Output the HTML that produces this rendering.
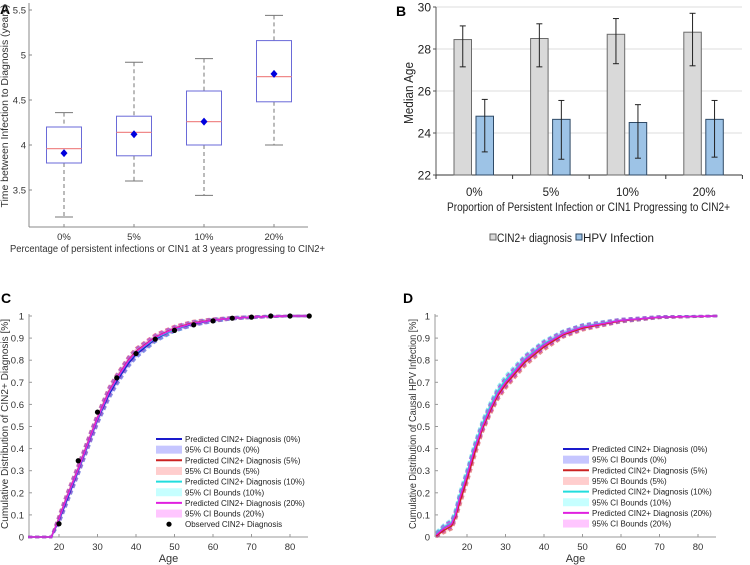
<!DOCTYPE html>
<html><head><meta charset="utf-8"><style>
html,body{margin:0;padding:0;background:#fff;}
svg{display:block;font-family:"Liberation Sans",Arial,sans-serif;}
</style></head><body>
<svg id="fig" width="750" height="565" viewBox="0 0 750 565" xmlns="http://www.w3.org/2000/svg">
<g id="pA"></g>
<g id="pB"></g>
<g id="pC"></g>
<g id="pD"></g>
</svg>
<script>
// ---- Panel A data ----
const catsA = ["0%","5%","10%","20%"];
const whiskLo = [3.2,3.6,3.44,4.0];
const q1 = [3.8,3.88,4.0,4.48];
const med = [3.96,4.14,4.26,4.76];
const q3 = [4.2,4.32,4.6,5.16];
const whiskHi = [4.36,4.92,4.96,5.44];
const meanA = [3.91,4.12,4.26,4.79];
const ticksA = [3.5,4,4.5,5,5.5];
// ---- Panel B data ----
const catsB = ["0%","5%","10%","20%"];
const cinMed = [28.45,28.5,28.7,28.8];
const cinLo = [27.15,27.15,27.3,27.2];
const cinHi = [29.1,29.2,29.45,29.7];
const hpvMed = [24.8,24.65,24.5,24.65];
const hpvLo = [23.1,22.75,22.8,22.85];
const hpvHi = [25.6,25.55,25.35,25.55];
const ticksB = [22,24,26,28,30];
// ---- Panel C data ----
const agesC = [12,18,20,22,25,28,30,33,35,38,40,45,50,55,60,65,70,75,80,85];
const c0 = [0,0,0.075,0.165,0.30,0.44,0.53,0.645,0.705,0.785,0.825,0.895,0.94,0.965,0.98,0.99,0.995,0.998,1,1];
const c5 = [0,0,0.085,0.18,0.31,0.45,0.54,0.66,0.72,0.80,0.84,0.905,0.945,0.97,0.982,0.99,0.995,0.998,1,1];
const c10 = [0,0,0.08,0.175,0.305,0.445,0.535,0.655,0.715,0.795,0.835,0.90,0.94,0.968,0.98,0.99,0.995,0.998,1,1];
const c20 = [0,0,0.082,0.177,0.307,0.447,0.537,0.657,0.717,0.797,0.837,0.903,0.943,0.968,0.981,0.99,0.995,0.998,1,1];
const ciC = [0,0,0.015,0.018,0.02,0.02,0.02,0.02,0.018,0.016,0.015,0.012,0.01,0.008,0.006,0.004,0.003,0.002,0,0];
const obsAge = [20,25,30,35,40,45,50,55,60,65,70,75,80,85];
const obsVal = [0.06,0.345,0.565,0.72,0.83,0.895,0.935,0.96,0.978,0.99,0.995,1,1,1];
// ---- Panel D data ----
const agesD = [12,14,16,17,18,20,22,24,26,28,30,35,40,45,50,55,60,70,85];
const d0 = [0.01,0.04,0.06,0.1,0.17,0.28,0.4,0.5,0.58,0.65,0.7,0.8,0.87,0.92,0.95,0.965,0.98,0.995,1];
const d5 = [0.005,0.03,0.05,0.09,0.15,0.26,0.38,0.49,0.57,0.64,0.69,0.79,0.86,0.915,0.945,0.962,0.978,0.994,1];
const d10 = [0.015,0.045,0.065,0.11,0.18,0.29,0.41,0.51,0.59,0.66,0.71,0.805,0.875,0.922,0.952,0.967,0.98,0.995,1];
const d20 = [0.01,0.04,0.06,0.1,0.17,0.28,0.4,0.5,0.58,0.65,0.7,0.8,0.87,0.92,0.95,0.965,0.98,0.995,1];
const ciD = [0.008,0.012,0.015,0.018,0.02,0.02,0.02,0.02,0.02,0.02,0.02,0.018,0.015,0.012,0.01,0.008,0.006,0.003,0];

const NS="http://www.w3.org/2000/svg";
function el(parent,tag,attrs,text){const e=document.createElementNS(NS,tag);for(const k in attrs)e.setAttribute(k,attrs[k]);if(text!==undefined)e.textContent=text;parent.appendChild(e);return e;}

// ===== Panel A =====
(function(){
const g=document.getElementById('pA');
const yA=v=>10+(5.5-v)*90, xA=i=>64+70*i;
el(g,'line',{x1:29,y1:3,x2:29,y2:227,stroke:'#888','stroke-width':1});
el(g,'line',{x1:29,y1:227,x2:308,y2:227,stroke:'#888','stroke-width':1});
let t=el(g,'text',{x:0,y:14,'font-size':14,'font-weight':'bold'},'A');

ticksA.forEach(v=>{el(g,'line',{x1:29,y1:yA(v),x2:32,y2:yA(v),stroke:'#888'});
 const tt=el(g,'text',{x:26,y:yA(v)+3.5,'font-size':9.5,fill:'#333','text-anchor':'end'},String(v));
 });
catsA.forEach((c,i)=>{const x=xA(i);
 el(g,'line',{x1:x,y1:227,x2:x,y2:224,stroke:'#888'});
 const tt=el(g,'text',{x:x,y:240,'font-size':9.5,fill:'#333','text-anchor':'middle'},c);
 
 const b=el(g,'g',{});
 
 el(b,'line',{x1:x,y1:yA(whiskHi[i]),x2:x,y2:yA(q3[i]),stroke:'#777','stroke-dasharray':'4,3'});
 el(b,'line',{x1:x,y1:yA(q1[i]),x2:x,y2:yA(whiskLo[i]),stroke:'#777','stroke-dasharray':'4,3'});
 el(b,'line',{x1:x-9,y1:yA(whiskHi[i]),x2:x+9,y2:yA(whiskHi[i]),stroke:'#777'});
 el(b,'line',{x1:x-9,y1:yA(whiskLo[i]),x2:x+9,y2:yA(whiskLo[i]),stroke:'#777'});
 el(b,'rect',{x:x-17.5,y:yA(q3[i]),width:35,height:yA(q1[i])-yA(q3[i]),fill:'none',stroke:'#6a6ad8'});
 el(b,'line',{x1:x-17.5,y1:yA(med[i]),x2:x+17.5,y2:yA(med[i]),stroke:'#f08a8a','stroke-width':1.2});
 const m=yA(meanA[i]);
 el(b,'polygon',{points:`${x},${m-4} ${x+3.5},${m} ${x},${m+4} ${x-3.5},${m}`,fill:'#0000dd'});
});
t=el(g,'text',{x:0,y:0,'font-size':10,fill:'#333','text-anchor':'middle',textLength:203,lengthAdjust:'spacingAndGlyphs',transform:'translate(8,106) rotate(-90)'},'Time between Infection to Diagnosis (years)');

t=el(g,'text',{x:10,y:252,'font-size':10,fill:'#333',textLength:315,lengthAdjust:'spacingAndGlyphs'},'Percentage of persistent infections or CIN1 at 3 years progressing to CIN2+');

})();

// ===== Panel B =====
(function(){
const g=document.getElementById('pB');
const yB=v=>7+(30-v)*21, x0=436, gw=76.6;
let t=el(g,'text',{x:396,y:16,'font-size':14,'font-weight':'bold'},'B');

ticksB.forEach(v=>{ if(v>22) el(g,'line',{x1:x0,y1:yB(v),x2:742,y2:yB(v),stroke:'#dcdcdc'});
 el(g,'line',{x1:x0-3,y1:yB(v),x2:x0,y2:yB(v),stroke:'#555'});
 const tt=el(g,'text',{x:x0-5,y:yB(v)+4.5,'font-size':12,fill:'#222','text-anchor':'end'},String(v));
 });
el(g,'line',{x1:x0,y1:yB(30),x2:x0,y2:yB(22),stroke:'#555'});
el(g,'line',{x1:x0,y1:yB(22),x2:742,y2:yB(22),stroke:'#333'});
for(let i=0;i<=4;i++){el(g,'line',{x1:x0+gw*i,y1:yB(22),x2:x0+gw*i,y2:yB(22)+4,stroke:'#333'});}
function err(x,lo,hi){el(g,'line',{x1:x,y1:yB(hi),x2:x,y2:yB(lo),stroke:'#222'});
 el(g,'line',{x1:x-3,y1:yB(hi),x2:x+3,y2:yB(hi),stroke:'#222'});
 el(g,'line',{x1:x-3,y1:yB(lo),x2:x+3,y2:yB(lo),stroke:'#222'});}
catsB.forEach((c,i)=>{const gx=x0+gw*i;
 const r1=el(g,'rect',{x:gx+18,y:yB(cinMed[i]),width:17.5,height:yB(22)-yB(cinMed[i]),fill:'#d9d9d9',stroke:'#6b6b6b','stroke-width':1});
 
 const r2=el(g,'rect',{x:gx+40,y:yB(hpvMed[i]),width:17.5,height:yB(22)-yB(hpvMed[i]),fill:'#9dc3e6',stroke:'#2f4a66','stroke-width':1});
 
 err(gx+26.75,cinLo[i],cinHi[i]);err(gx+48.75,hpvLo[i],hpvHi[i]);
 const tt=el(g,'text',{x:gx+gw/2,y:196,'font-size':11.5,fill:'#222','text-anchor':'middle'},c);
 
});
t=el(g,'text',{x:0,y:0,'font-size':12.5,fill:'#222','text-anchor':'middle',textLength:62,lengthAdjust:'spacingAndGlyphs',transform:'translate(413,93) rotate(-90)'},'Median Age');

t=el(g,'text',{x:447,y:211,'font-size':11.5,fill:'#222',textLength:283,lengthAdjust:'spacingAndGlyphs'},'Proportion of Persistent Infection or CIN1 Progressing to CIN2+');

const lg=el(g,'g',{});
el(lg,'rect',{x:490,y:234,width:6,height:6,fill:'#d9d9d9',stroke:'#666'});
el(lg,'text',{x:497,y:242,'font-size':11.5,fill:'#222',textLength:75,lengthAdjust:'spacingAndGlyphs'},'CIN2+ diagnosis');
el(lg,'rect',{x:576,y:234,width:6,height:6,fill:'#9dc3e6',stroke:'#2f4a66'});
el(lg,'text',{x:583,y:242,'font-size':11.5,fill:'#222',textLength:71,lengthAdjust:'spacingAndGlyphs'},'HPV Infection');
})();

// ===== Panels C & D =====
const colors=['#1a1acc','#cc2222','#22dddd','#e020e0'];
const bandCols=['#8080ff','#ff9090','#80ffff','#ff80ff'];
function cdfPanel(gid,left,right,x20,ages,series,ci,ytitle,label,labelX,legX,legY,withObs,titleX){
 const g=document.getElementById(gid);
 const X=a=>x20+(a-20)*3.85, Y=v=>537-v*221;
 let t=el(g,'text',{x:labelX,y:303,'font-size':14,'font-weight':'bold'},label);
 
 el(g,'line',{x1:left,y1:Y(1)-2,x2:left,y2:537,stroke:'#999'});
 el(g,'line',{x1:left,y1:537,x2:right,y2:537,stroke:'#999'});
 for(let k=0;k<=10;k++){const v=k/10;
  el(g,'line',{x1:left,y1:Y(v),x2:left+3,y2:Y(v),stroke:'#999'});
  const tt=el(g,'text',{x:left-5,y:Y(v)+3.5,'font-size':9.5,fill:'#333','text-anchor':'end'},String(Math.round(v*10)/10));
  }
 for(let a=20;a<=80;a+=10){el(g,'line',{x1:X(a),y1:537,x2:X(a),y2:534,stroke:'#999'});
  const tt=el(g,'text',{x:X(a),y:550,'font-size':9.5,fill:'#333','text-anchor':'middle'},String(a));
  }
 series.forEach((s,si)=>{
  const up=ages.map((a,i)=>`${X(a)},${Y(Math.min(1,s[i]+ci[i]))}`);
  const lo=ages.map((a,i)=>`${X(a)},${Y(Math.max(0,s[i]-ci[i]))}`);
  const band=el(g,'polygon',{points:up.concat(lo.slice().reverse()).join(' '),fill:bandCols[si],'fill-opacity':0.35});
  
  el(g,'polyline',{points:up.join(' '),fill:'none',stroke:colors[si],'stroke-width':2.5,'stroke-dasharray':'4,3','stroke-opacity':0.5});
  el(g,'polyline',{points:lo.join(' '),fill:'none',stroke:colors[si],'stroke-width':2.5,'stroke-dasharray':'4,3','stroke-opacity':0.5});
 });
 series.forEach((s,si)=>{
  const ln=el(g,'polyline',{points:ages.map((a,i)=>`${X(a)},${Y(s[i])}`).join(' '),fill:'none',stroke:colors[si],'stroke-width':1.5});
  
 });
 if(withObs){obsAge.forEach((a,i)=>{const d=el(g,'circle',{cx:X(a),cy:Y(obsVal[i]),r:2.6,fill:'#000'});
  });}
 t=el(g,'text',{x:0,y:0,'font-size':10,fill:'#333','text-anchor':'middle',textLength:210,lengthAdjust:'spacingAndGlyphs',transform:`translate(${titleX},424) rotate(-90)`},ytitle);
 
 t=el(g,'text',{x:(left+right)/2,y:562,'font-size':11,fill:'#333','text-anchor':'middle'},'Age');
 
 const lg=el(g,'g',{});
 const pct=['0%','5%','10%','20%'];let row=0;
 pct.forEach((p,si)=>{
  let y=legY+row*10.65;
  el(lg,'line',{x1:legX,y1:y,x2:legX+26,y2:y,stroke:colors[si],'stroke-width':2});
  el(lg,'text',{x:legX+29,y:y+3,'font-size':8,fill:'#222'},`Predicted CIN2+ Diagnosis (${p})`);row++;
  y=legY+row*10.65;
  el(lg,'rect',{x:legX,y:y-4,width:26,height:8,fill:bandCols[si],'fill-opacity':0.45});
  el(lg,'text',{x:legX+29,y:y+3,'font-size':8,fill:'#222'},`95% CI Bounds (${p})`);row++;
 });
 if(withObs){const y=legY+row*10.65;el(lg,'circle',{cx:legX+13,cy:y,r:2.6,fill:'#000'});
  el(lg,'text',{x:legX+29,y:y+3,'font-size':8,fill:'#222'},'Observed CIN2+ Diagnosis');}
}
cdfPanel('pC',29,308,59,agesC,[c0,c5,c10,c20],ciC,'Cumulative Distribution of CIN2+ Diagnosis [%]','C',1,156,439,true,8);
cdfPanel('pD',435,716,467,agesD,[d0,d5,d10,d20],ciD,'Cumulative Distribution of Causal HPV Infection [%]','D',403,563,449,false,416);
</script>
</body></html>
